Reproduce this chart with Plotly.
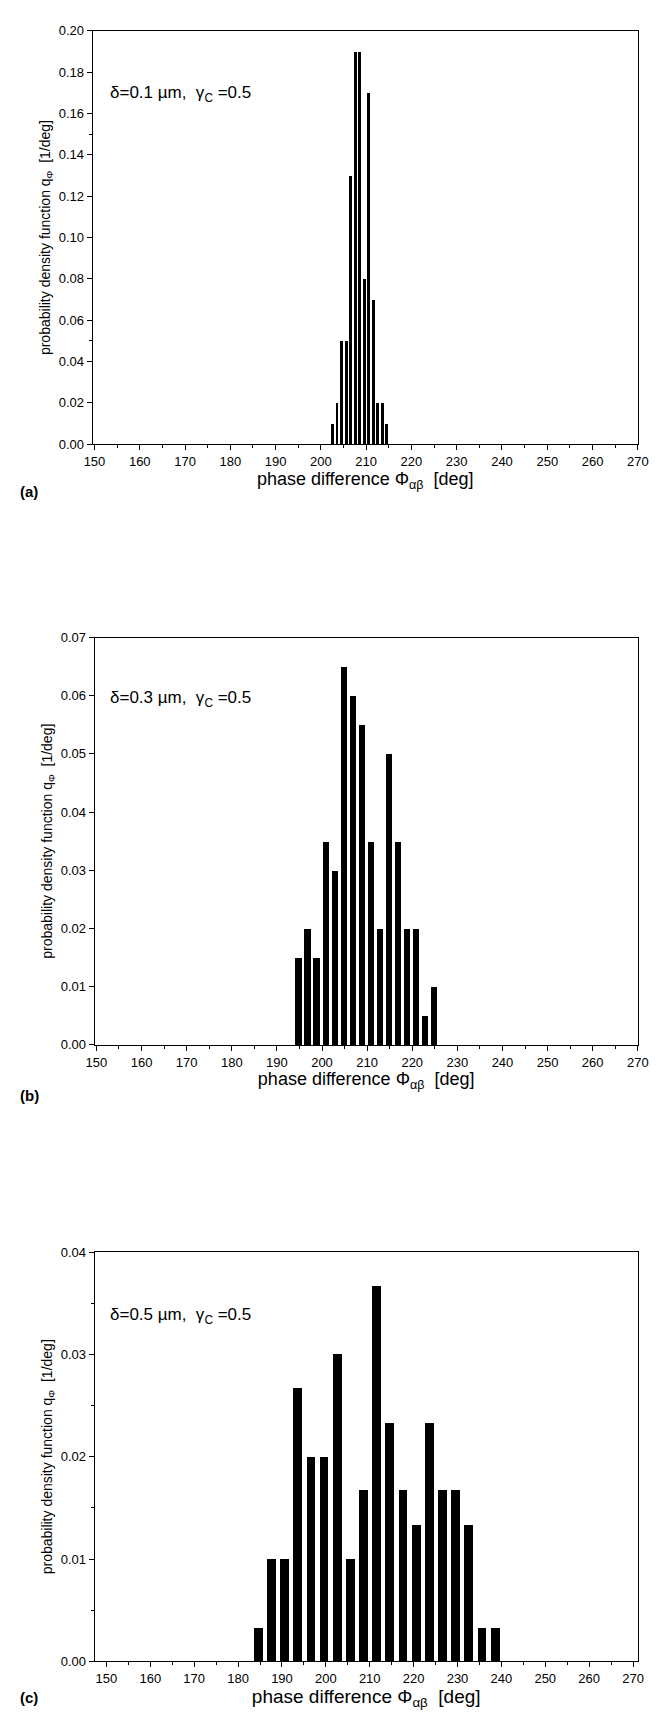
import plotly.graph_objects as go

W, H = 668, 1713

# ---------------- data ----------------
# (a) delta = 0.1 um, 1-degree bins
phi_a = [202.5, 203.5, 204.5, 205.5, 206.5, 207.5, 208.5, 209.5, 210.5, 211.5, 212.5, 213.5, 214.5]
q_a = [0.01, 0.02, 0.05, 0.05, 0.13, 0.19, 0.19, 0.08, 0.17, 0.07, 0.02, 0.02, 0.01]

# (b) delta = 0.3 um, 2-degree bins
phi_b = [194.7, 196.7, 198.7, 200.7, 202.7, 204.7, 206.7, 208.7, 210.7, 212.7, 214.7, 216.7, 218.7, 220.7, 222.7, 224.7]
q_b = [0.015, 0.020, 0.015, 0.035, 0.030, 0.065, 0.060, 0.055, 0.035, 0.020, 0.050, 0.035, 0.020, 0.020, 0.005, 0.010]

# (c) delta = 0.5 um, 3-degree bins
phi_c = [184.5, 187.5, 190.5, 193.5, 196.5, 199.5, 202.5, 205.5, 208.5, 211.5, 214.5, 217.5, 220.5, 223.5, 226.5, 229.5, 232.5, 235.5, 238.5]
q_c = [0.0033, 0.0100, 0.0100, 0.0267, 0.0200, 0.0200, 0.0300, 0.0100, 0.0167, 0.0367, 0.0233, 0.0167, 0.0133, 0.0233, 0.0167, 0.0167, 0.0133, 0.0033, 0.0033]

x_ticks = [150, 160, 170, 180, 190, 200, 210, 220, 230, 240, 250, 260, 270]
y_ticks_a = [0.00, 0.02, 0.04, 0.06, 0.08, 0.10, 0.12, 0.14, 0.16, 0.18, 0.20]
y_ticks_b = [0.00, 0.01, 0.02, 0.03, 0.04, 0.05, 0.06, 0.07]
y_ticks_c = [0.00, 0.01, 0.02, 0.03, 0.04]

labels = ["(a)", "(b)", "(c)"]
notes = ["δ=0.1 µm,  γ<sub>C</sub> =0.5", "δ=0.3 µm,  γ<sub>C</sub> =0.5", "δ=0.5 µm,  γ<sub>C</sub> =0.5"]

FONT = "Liberation Sans, Arial, sans-serif"

# panel geometry in pixels (left, right, top, bottom)
panels = [
    dict(l=78, r=640, t=16, b=433, xr=[149.6, 270.0], yr=[0, 0.20], yt=y_ticks_a,
         x=phi_a, y=q_a, w=0.62, tick=13, ttl=18, note_y=80, lab_y=481, nfs=17),
    dict(l=80, r=640, t=628, b=1039, xr=[149.6, 270.0], yr=[0, 0.07], yt=y_ticks_b,
         x=phi_b, y=q_b, w=1.35, tick=13, ttl=18, note_y=690, lab_y=1090, nfs=17),
    dict(l=80, r=640, t=1248, b=1661, xr=[147.3, 271.1], yr=[0, 0.04], yt=y_ticks_c,
         x=phi_c, y=q_c, w=2.0, tick=13, ttl=19, note_y=1312, lab_y=1697, nfs=17),
]

fig = go.Figure()
annotations = []
for i, p in enumerate(panels):
    n = "" if i == 0 else str(i + 1)
    fig.add_trace(go.Bar(x=p["x"], y=p["y"], width=p["w"], marker=dict(color="black", line=dict(width=0)),
                         xaxis="x" + n, yaxis="y" + n, showlegend=False))
    xd = [p["l"] / W, p["r"] / W]
    yd = [1 - p["b"] / H, 1 - p["t"] / H]
    fig.update_layout(**{
        "xaxis" + n: dict(domain=xd, range=p["xr"], anchor="y" + n, tickvals=x_ticks,
                          ticks="outside", ticklen=5, tickcolor="black", showline=True, linecolor="black",
                          linewidth=1, mirror=True, showgrid=False, zeroline=False,
                          minor=dict(ticks="outside", dtick=5, tick0=150, ticklen=3, tickcolor="black"),
                          tickfont=dict(family=FONT, size=p["tick"], color="black"),
                          title=dict(text="phase difference Φ<sub>αβ</sub>  [deg]",
                                     font=dict(family=FONT, size=p["ttl"], color="black"), standoff=1)),
        "yaxis" + n: dict(domain=yd, range=p["yr"], anchor="x" + n, tickvals=p["yt"], tickformat=".2f",
                          ticks="outside", ticklen=5, tickcolor="black", showline=True, linecolor="black",
                          linewidth=1, mirror=True, showgrid=False, zeroline=False,
                          minor=dict(ticks="outside", ticklen=3, tickcolor="black", nticks=2),
                          tickfont=dict(family=FONT, size=p["tick"], color="black"),
                          title=dict(text="probability density function q<sub>Φ</sub>  [1/deg]",
                                     font=dict(family=FONT, size=14, color="black"), standoff=4)),
    })
    annotations.append(dict(x=94 / W, y=1 - p["note_y"] / H, xref="paper", yref="paper",
                            text=notes[i], showarrow=False, xanchor="left", yanchor="middle",
                            font=dict(family=FONT, size=p["nfs"], color="black")))
    annotations.append(dict(x=1 / W, y=1 - p["lab_y"] / H, xref="paper", yref="paper",
                            text="<b>" + labels[i] + "</b>", showarrow=False, xanchor="left", yanchor="middle",
                            font=dict(family=FONT, size=15, color="black")))

fig.update_layout(width=W, height=H, margin=dict(l=0, r=0, t=0, b=0),
                  paper_bgcolor="white", plot_bgcolor="white", bargap=0,
                  annotations=annotations)

fig.write_html("out.html")
